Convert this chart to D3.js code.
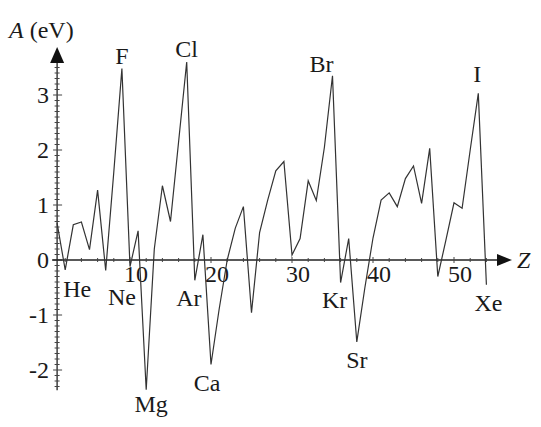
<!DOCTYPE html>
<meta charset="utf-8" />
<style>
  body {
    background: #fff;
    margin: 0px;
  }

  text {
    font-family: "Liberation Serif", "Times New Roman", serif;
    font-size: 24px;
    fill: #1a1a1a;
  }

  .curve {
    fill: none;
    stroke: #333;
    stroke-width: 1.2px;
    stroke-linejoin: miter;
  }

  .axis-line {
    stroke: #222;
    stroke-width: 1.3px;
  }

  .tick {
    stroke: #444;
    stroke-width: 1px;
  }
</style>
<body>
<script src="https://d3js.org/d3.v7.min.js"></script>
<script>
  var width = 541,
    height = 427;

  // atomic number and electron affinity (eV)
  var atomicNumbers = d3.range(1, 55);
  var affinity = [
    0.67, -0.18, 0.64, 0.69, 0.19, 1.27, -0.19, 1.6, 3.48, -0.12,
    0.53, -2.36, 0.2, 1.35, 0.7, 2.15, 3.6, -0.37, 0.46, -1.9,
    -0.9, 0.0, 0.58, 0.97, -0.96, 0.5, 1.09, 1.62, 1.79, 0.09,
    0.39, 1.44, 1.08, 2.05, 3.35, -0.41, 0.39, -1.49, -0.5, 0.4,
    1.09, 1.22, 0.97, 1.48, 1.71, 1.03, 2.03, -0.3, 0.36, 1.04,
    0.94, 2.0, 3.03, -0.45,
  ];

  var xTickLabels = [10, 20, 30, 40, 50];
  var yTickLabels = [-2, -1, 0, 1, 2, 3];

  var markedSymbols = ["F", "Cl", "Br", "I", "He", "Ne", "Mg", "Ar", "Ca", "Kr", "Sr", "Xe"];
  var markedZ = [9, 17, 35, 53, 2, 10, 12, 18, 20, 36, 38, 54];

  // where each symbol sits relative to its point
  var labelOffsets = [
    [0, -5], [0, -5], [-11, -4], [-1, -11],
    [12, 27], [-8, 38], [5, 22], [-6, 26],
    [-4, 26], [-6, 25], [0, 26], [2, 26],
  ];

  var x = d3.scaleLinear().domain([0, 54]).range([49, 49 + 54 * 8.1]);
  var y = d3.scaleLinear().domain([-2, 3]).range([370, 95]);

  var axisX = x(1);
  var axisY = y(0);

  var svg = d3
    .select("body")
    .append("svg")
    .attr("width", width)
    .attr("height", height);

  // y axis
  svg
    .append("line")
    .attr("class", "axis-line")
    .attr("x1", axisX)
    .attr("x2", axisX)
    .attr("y1", y(-2.37))
    .attr("y2", 56);

  svg
    .append("path")
    .attr("d", d3.line()([[axisX, 47], [axisX - 7, 63], [axisX + 7, 63]]) + "Z")
    .style("fill", "#111");

  var minorY = d3.range(-23, 36).map(function (d) {
    return d / 10;
  });

  svg
    .selectAll(".ytick")
    .data(minorY)
    .enter()
    .append("line")
    .attr("class", "tick")
    .attr("x1", function (d) {
      return Math.abs(d - Math.round(d)) < 1e-6 ? axisX - 4 : axisX - 2.5;
    })
    .attr("x2", function (d) {
      return Math.abs(d - Math.round(d)) < 1e-6 ? axisX + 5 : axisX + 2.5;
    })
    .attr("y1", y)
    .attr("y2", y);

  svg
    .selectAll(".ylabel")
    .data(yTickLabels)
    .enter()
    .append("text")
    .attr("x", axisX - 8)
    .attr("y", function (d) {
      return y(d) + 8;
    })
    .attr("text-anchor", "end")
    .text(function (d) {
      return d;
    });

  svg
    .append("text")
    .attr("x", 9)
    .attr("y", 38)
    .html('<tspan font-style="italic">A</tspan> (eV)');

  // x axis
  svg
    .append("line")
    .attr("class", "axis-line")
    .attr("x1", axisX - 5)
    .attr("x2", 500)
    .attr("y1", axisY)
    .attr("y2", axisY);

  svg
    .append("path")
    .attr(
      "d",
      d3.line()([[512, axisY], [497, axisY - 6], [497, axisY + 6]]) + "Z"
    )
    .style("fill", "#111");

  svg
    .append("text")
    .attr("x", 517)
    .attr("y", axisY + 8)
    .style("font-style", "italic")
    .text("Z");

  svg
    .selectAll(".xtick")
    .data(d3.range(2, 55, 2))
    .enter()
    .append("line")
    .attr("class", "tick")
    .attr("x1", x)
    .attr("x2", x)
    .attr("y1", function (d) {
      return d % 10 === 0 ? axisY - 3 : axisY - 2;
    })
    .attr("y2", function (d) {
      return d % 10 === 0 ? axisY + 3 : axisY + 2;
    });

  svg
    .selectAll(".xlabel")
    .data(xTickLabels)
    .enter()
    .append("text")
    .attr("x", function (d) {
      return x(d) + 6;
    })
    .attr("y", axisY + 22)
    .attr("text-anchor", "middle")
    .text(function (d) {
      return d;
    });

  // the curve
  var line = d3
    .line()
    .x(function (d) {
      return x(d[0]);
    })
    .y(function (d) {
      return y(d[1]);
    });

  svg
    .append("path")
    .datum(d3.zip(atomicNumbers, affinity))
    .attr("class", "curve")
    .attr("d", line);

  // element symbols
  svg
    .selectAll(".element")
    .data(markedSymbols)
    .enter()
    .append("text")
    .attr("text-anchor", "middle")
    .attr("x", function (d, i) {
      return x(markedZ[i]) + labelOffsets[i][0];
    })
    .attr("y", function (d, i) {
      return y(affinity[markedZ[i] - 1]) + labelOffsets[i][1];
    })
    .text(function (d) {
      return d;
    });
</script>
</body>
